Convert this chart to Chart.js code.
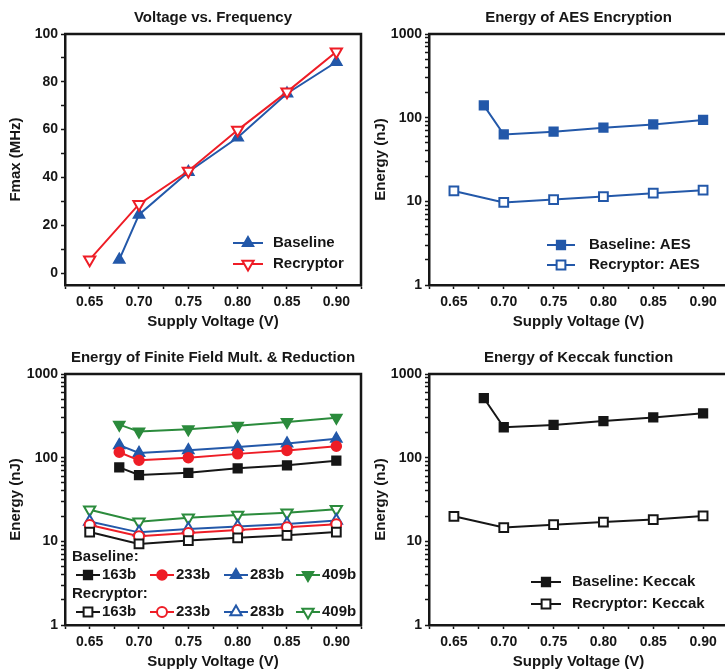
<!DOCTYPE html>
<html>
<head>
<meta charset="utf-8">
<script src="https://cdn.jsdelivr.net/npm/chart.js"></script>
<style>
  body { margin: 0; width: 725px; height: 669px; overflow: hidden; background: #fff; position: relative; }
  canvas { position: absolute; }
</style>
</head>
<body>
<canvas id="fmax" width="366" height="340" style="left:0;top:0"></canvas>
<canvas id="aes" width="371" height="340" style="left:362px;top:0"></canvas>
<canvas id="ff" width="366" height="340" style="left:0;top:340px"></canvas>
<canvas id="keccak" width="371" height="340" style="left:362px;top:340px"></canvas>
<script>
// supply voltages (V)
const baseVolts = [0.68, 0.70, 0.75, 0.80, 0.85, 0.90];
const recVolts = [0.65, 0.70, 0.75, 0.80, 0.85, 0.90];

// Fmax (MHz)
const fmaxBaseline = [5.6, 24.4, 42.3, 56.7, 75.1, 88.3];
const fmaxRecryptor = [5.6, 28.8, 42.7, 59.8, 75.8, 92.6];

// energy (nJ)
const aesBaseline = [140, 63, 68, 76, 83, 94];
const aesRecryptor = [13.3, 9.7, 10.5, 11.4, 12.5, 13.6];

const ffBase163 = [76.6, 62, 66, 74.6, 81, 92];
const ffBase233 = [116, 93, 100, 111, 122, 137];
const ffBase283 = [141, 114, 123, 134, 148, 168];
const ffBase409 = [248, 205, 218, 241, 267, 300];
const ffRec163 = [12.9, 9.3, 10.2, 11.0, 11.8, 12.9];
const ffRec233 = [15.7, 11.5, 12.6, 13.7, 14.7, 16.0];
const ffRec283 = [17.3, 12.8, 14.0, 15.0, 16.1, 17.7];
const ffRec409 = [23.9, 17.2, 19.2, 20.6, 22.0, 24.1];

const keccakBaseline = [516, 231, 246, 274, 303, 339];
const keccakRecryptor = [19.9, 14.6, 15.8, 17.0, 18.2, 20.1];

// ticks
const voltTicks = [0.625, 0.65, 0.675, 0.70, 0.725, 0.75, 0.775, 0.80, 0.825, 0.85, 0.875, 0.90, 0.925];
const voltLabels = [0.65, 0.70, 0.75, 0.80, 0.85, 0.90];
const fmaxTicks = [0, 10, 20, 30, 40, 50, 60, 70, 80, 90, 100];
const fmaxLabels = [0, 20, 40, 60, 80, 100];
const energyTicks = [];
[1, 10, 100].forEach(d => { for (let k = 1; k < 10; k++) energyTicks.push(d * k); });
energyTicks.push(1000);
const energyLabels = [1, 10, 100, 1000];

const INK = '#161616';
const BLUE = '#2358a9';
const RED = '#ee1d26';
const GREEN = '#2b8b3c';
const FONT = "'Liberation Sans', Arial, sans-serif";

Chart.defaults.font.family = FONT;
Chart.defaults.font.weight = 'bold';
Chart.defaults.font.size = 14;
Chart.defaults.color = INK;

function xy(xs, ys) {
    return xs.map((x, i) => ({x: x, y: ys[i]}));
}

function line(label, xs, ys, color, style, hollow, rot, radius) {
    return {
        label: label,
        data: xy(xs, ys),
        borderColor: color,
        backgroundColor: color,
        borderWidth: 2,
        pointStyle: style,
        pointRotation: rot || 0,
        pointRadius: radius || 6.2,
        pointBorderWidth: hollow ? 2 : 1.5,
        pointBorderColor: color,
        pointBackgroundColor: hollow ? '#fff' : color,
        tension: 0,
        fill: false,
    };
}

function sameTick(a, b) {
    return Math.abs(a - b) < 1e-6;
}

const panelPlugin = {
    id: 'panel',
    afterDraw(chart, args, opts) {
        const ctx = chart.ctx;
        const a = chart.chartArea;
        ctx.save();
        // closing top / right side of the frame
        ctx.strokeStyle = INK;
        ctx.lineWidth = 2.5;
        ctx.beginPath();
        ctx.moveTo(a.left - 1, a.top);
        ctx.lineTo(a.right, a.top);
        ctx.lineTo(a.right, a.bottom + 1);
        ctx.stroke();

        ctx.fillStyle = INK;
        ctx.font = 'bold 15px ' + FONT;
        ctx.textAlign = 'center';
        ctx.textBaseline = 'middle';
        ctx.fillText(opts.title, (a.left + a.right) / 2, 18);

        ctx.textAlign = 'left';
        (opts.headers || []).forEach(h => ctx.fillText(h.text, h.x, h.y));
        (opts.items || []).forEach(it => {
            const d = chart.data.datasets[it.ds];
            ctx.strokeStyle = d.borderColor;
            ctx.lineWidth = d.borderWidth;
            ctx.beginPath();
            ctx.moveTo(it.x - opts.half, it.y);
            ctx.lineTo(it.x + opts.half, it.y);
            ctx.stroke();
            ctx.fillStyle = d.pointBackgroundColor;
            ctx.strokeStyle = d.pointBorderColor;
            ctx.lineWidth = d.pointBorderWidth;
            Chart.helpers.drawPoint(ctx, {
                pointStyle: d.pointStyle,
                radius: d.pointRadius,
                rotation: d.pointRotation,
                borderWidth: d.pointBorderWidth,
            }, it.x, it.y);
            ctx.fillStyle = INK;
            ctx.fillText(it.text, it.x + opts.half + opts.gap, it.y);
        });
        ctx.restore();
    }
};

const tickGrid = {
    drawOnChartArea: false,
    drawTicks: true,
    tickLength: 4,
    tickWidth: 1.5,
    tickColor: INK,
};
const axisBorder = {display: true, width: 2.5, color: INK};

function xAxis() {
    return {
        type: 'linear',
        min: 0.625,
        max: 0.925,
        afterBuildTicks: s => { s.ticks = voltTicks.map(v => ({value: v})); },
        afterFit: s => { s.height = 55; },
        ticks: {
            autoSkip: false,
            maxRotation: 0,
            padding: 5,
            callback: v => voltLabels.some(l => sameTick(l, v)) ? v.toFixed(2) : '',
        },
        grid: tickGrid,
        border: axisBorder,
        title: {display: true, text: 'Supply Voltage (V)', font: {size: 15, weight: 'bold'}, padding: {top: 0, bottom: 9}},
    };
}

function energyAxis(width, titlePad) {
    return {
        type: 'logarithmic',
        min: 1,
        max: 1000,
        afterBuildTicks: s => { s.ticks = energyTicks.map(v => ({value: v})); },
        afterFit: s => { s.width = width; },
        ticks: {
            autoSkip: false,
            padding: 3,
            callback: v => energyLabels.some(l => sameTick(l, v)) ? String(v) : '',
        },
        grid: tickGrid,
        border: axisBorder,
        title: {display: true, text: 'Energy (nJ)', font: {size: 15, weight: 'bold'}, padding: {top: titlePad, bottom: 0}},
    };
}

function makeChart(id, datasets, yScale, panel, right) {
    return new Chart(document.getElementById(id), {
        type: 'line',
        data: {datasets: datasets},
        options: {
            responsive: false,
            animation: false,
            layout: {autoPadding: false, padding: {left: 0, top: 34, right: right, bottom: 0}},
            plugins: {legend: {display: false}, tooltip: {enabled: false}, panel: panel},
            scales: {x: xAxis(), y: yScale},
        },
        plugins: [panelPlugin],
    });
}

makeChart('fmax', [
    line('Recryptor', recVolts, fmaxRecryptor, RED, 'triangle', true, 180, 6.5),
    line('Baseline', baseVolts, fmaxBaseline, BLUE, 'triangle', false, 0, 6.5),
], {
    type: 'linear',
    min: -5,
    max: 100,
    afterBuildTicks: s => { s.ticks = fmaxTicks.map(v => ({value: v})); },
    afterFit: s => { s.width = 65; },
    ticks: {
        autoSkip: false,
        padding: 3,
        callback: v => fmaxLabels.includes(v) ? String(v) : '',
    },
    grid: tickGrid,
    border: axisBorder,
    title: {display: true, text: 'Fmax (MHz)', font: {size: 15, weight: 'bold'}, padding: {top: 7, bottom: 0}},
}, {
    title: 'Voltage vs. Frequency',
    half: 15, gap: 10,
    items: [
        {ds: 1, x: 248, y: 243, text: 'Baseline'},
        {ds: 0, x: 248, y: 264, text: 'Recryptor'},
    ],
}, 4);

makeChart('aes', [
    line('Baseline: AES', baseVolts, aesBaseline, BLUE, 'rect', false),
    line('Recryptor: AES', recVolts, aesRecryptor, BLUE, 'rect', true),
], energyAxis(67, 10), {
    title: 'Energy of AES Encryption',
    half: 14, gap: 14,
    items: [
        {ds: 0, x: 199, y: 245, text: 'Baseline: AES'},
        {ds: 1, x: 199, y: 265, text: 'Recryptor: AES'},
    ],
}, 4);

makeChart('ff', [
    line('Baseline: 163b', baseVolts, ffBase163, INK, 'rect', false),
    line('Baseline: 233b', baseVolts, ffBase233, RED, 'circle', false, 0, 5),
    line('Baseline: 283b', baseVolts, ffBase283, BLUE, 'triangle', false, 0, 6.5),
    line('Baseline: 409b', baseVolts, ffBase409, GREEN, 'triangle', false, 180, 6.5),
    line('Recryptor: 163b', recVolts, ffRec163, INK, 'rect', true),
    line('Recryptor: 233b', recVolts, ffRec233, RED, 'circle', true, 0, 5),
    line('Recryptor: 283b', recVolts, ffRec283, BLUE, 'triangle', true, 0, 6.5),
    line('Recryptor: 409b', recVolts, ffRec409, GREEN, 'triangle', true, 180, 6.5),
], energyAxis(65, 7), {
    title: 'Energy of Finite Field Mult. & Reduction',
    half: 12, gap: 2,
    headers: [
        {text: 'Baseline:', x: 72, y: 217},
        {text: 'Recryptor:', x: 72, y: 254},
    ],
    items: [
        {ds: 0, x: 88, y: 235, text: '163b'},
        {ds: 1, x: 162, y: 235, text: '233b'},
        {ds: 2, x: 236, y: 235, text: '283b'},
        {ds: 3, x: 308, y: 235, text: '409b'},
        {ds: 4, x: 88, y: 272, text: '163b'},
        {ds: 5, x: 162, y: 272, text: '233b'},
        {ds: 6, x: 236, y: 272, text: '283b'},
        {ds: 7, x: 308, y: 272, text: '409b'},
    ],
}, 4);

makeChart('keccak', [
    line('Baseline: Keccak', baseVolts, keccakBaseline, INK, 'rect', false),
    line('Recryptor: Keccak', recVolts, keccakRecryptor, INK, 'rect', true),
], energyAxis(67, 10), {
    title: 'Energy of Keccak function',
    half: 15, gap: 11,
    items: [
        {ds: 0, x: 184, y: 242, text: 'Baseline: Keccak'},
        {ds: 1, x: 184, y: 264, text: 'Recryptor: Keccak'},
    ],
}, 4);
</script>
</body>
</html>
